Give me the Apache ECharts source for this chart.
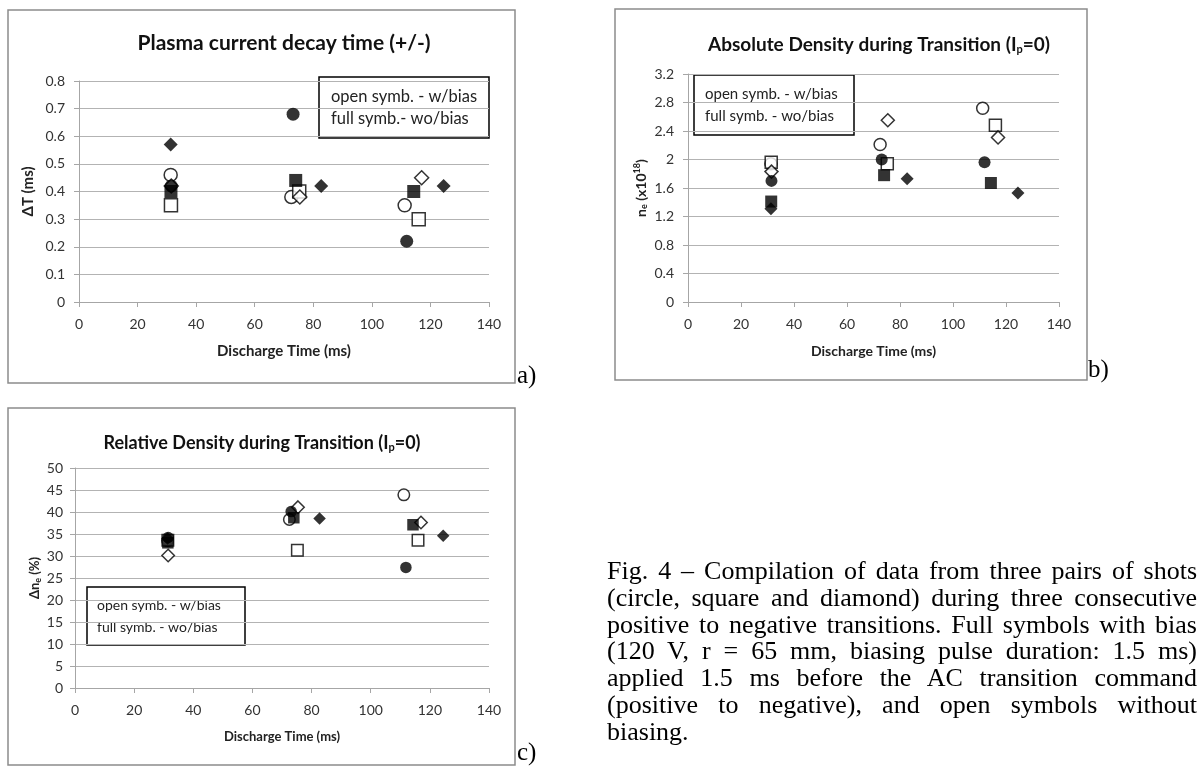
<!DOCTYPE html>
<html>
<head>
<meta charset="utf-8">
<script src="https://cdn.jsdelivr.net/npm/echarts@6/dist/echarts.min.js"></script>
<style>
  html, body { margin: 0; padding: 0; background: #fff; }
  #page { position: relative; width: 1202px; height: 769px; overflow: hidden; }
  #chart { position: absolute; left: 0; top: 0; width: 1202px; height: 769px; }
  .tag { position: absolute; font-family: "Liberation Serif", "Times New Roman", serif; font-size: 25px; line-height: 25px; color: #000; }
  #caption { position: absolute; left: 607px; top: 558px; width: 590px;
    font-family: "Liberation Serif", "Times New Roman", serif; font-size: 26px; line-height: 26.8px; color: #000; }
  #caption div { text-align: justify; text-align-last: justify; white-space: nowrap; }
  #caption div.last { text-align-last: left; }
</style>
</head>
<body>
<div id="page">
  <div id="chart"></div>
  <div class="tag" style="left:517px; top:362px;">a)</div>
  <div class="tag" style="left:1088px; top:356px;">b)</div>
  <div class="tag" style="left:517px; top:739px;">c)</div>
  <div id="caption"></div>
</div>
<script>
  // discharge time (ms) of each symbol, same shots in all three panels
  const timeOpenCircle = [31.3, 72.5, 111.2];
  const timeFullCircle = [31.5, 73.1, 111.9];
  const timeOpenSquare = [31.4, 75.2, 116.0];
  const timeFullSquare = [31.4, 74.0, 114.3];
  const timeOpenDiamond = [31.5, 75.4, 117.0];
  const timeFullDiamond = [31.3, 82.7, 124.5];

  // a) plasma current decay time, dT (ms)
  const decayOpenCircle = [0.46, 0.38, 0.35];
  const decayFullCircle = [0.42, 0.68, 0.22];
  const decayOpenSquare = [0.35, 0.40, 0.30];
  const decayFullSquare = [0.40, 0.44, 0.40];
  const decayOpenDiamond = [0.42, 0.38, 0.45];
  const decayFullDiamond = [0.57, 0.42, 0.42];

  // b) absolute density, ne (x10^18)
  const absOpenCircle = [1.94, 2.21, 2.72];
  const absFullCircle = [1.70, 2.00, 1.96];
  const absOpenSquare = [1.96, 1.94, 2.48];
  const absFullSquare = [1.41, 1.78, 1.67];
  const absOpenDiamond = [1.83, 2.55, 2.31];
  const absFullDiamond = [1.31, 1.73, 1.53];

  // c) relative density, dne (%)
  const relOpenCircle = [33.5, 38.3, 43.9];
  const relFullCircle = [34.2, 40.1, 27.4];
  const relOpenSquare = [33.6, 31.3, 33.6];
  const relFullSquare = [33.0, 38.7, 37.1];
  const relOpenDiamond = [30.1, 41.1, 37.6];
  const relFullDiamond = [34.0, 38.5, 34.6];

  const xTicks = [0, 20, 40, 60, 80, 100, 120, 140];
  const decayTicks = [0, 0.1, 0.2, 0.3, 0.4, 0.5, 0.6, 0.7, 0.8];
  const absTicks = [0, 0.4, 0.8, 1.2, 1.6, 2, 2.4, 2.8, 3.2];
  const relTicks = [0, 5, 10, 15, 20, 25, 30, 35, 40, 45, 50];

  const titles = [
    'Plasma current decay time (+/-)',
    'Absolute Density during Transition (I{sub|p}=0)',
    'Relative Density during Transition (I{sub|p}=0)'
  ];
  const yNames = ['\u0394T (ms)', 'n{sub|e} (x10{sup|18})', '\u0394n{sub|e} (%)'];
  const xName = 'Discharge Time (ms)';
  const noteLinesA = ['open symb. - w/bias', 'full symb.- wo/bias'];
  const noteLinesB = ['open symb. - w/bias', 'full symb. - wo/bias'];
  const noteLinesC = ['open symb. - w/bias', 'full symb. - wo/bias'];

  const captionLines = [
    'Fig. 4 \u2013 Compilation of data from three pairs of shots',
    '(circle, square and diamond) during three consecutive',
    'positive to negative transitions. Full symbols with bias',
    '(120 V, r = 65 mm, biasing pulse duration: 1.5 ms)',
    'applied 1.5 ms before the AC transition command',
    '(positive to negative), and open symbols without',
    'biasing.'
  ];

  const FONT = 'Lato, "Open Sans", sans-serif';

  const cap = document.getElementById('caption');
  captionLines.forEach((line, i) => {
    const d = document.createElement('div');
    d.textContent = line;
    if (i === captionLines.length - 1) d.className = 'last';
    cap.appendChild(d);
  });

  // the three panels were pasted at slightly different scales
  const grids = [
    { left: 79, top: 81, width: 410, height: 221 },
    { left: 688, top: 74, width: 371, height: 228 },
    { left: 75, top: 468, width: 414, height: 220 }
  ];
  const yTickSets = [decayTicks, absTicks, relTicks];
  const yNameGaps = [43, 39, 29];
  const yLabelMargins = [14, 14, 12];
  const nameSizes = [15, 14, 13];
  const markSizes = [13, 12, 11.5];

  const rich = {
    sub: { fontSize: 9, fontWeight: 'bold', fontFamily: FONT, padding: [7, 0, 0, 0] },
    sup: { fontSize: 9, fontWeight: 'bold', fontFamily: FONT, padding: [0, 0, 7, 0] }
  };

  const xAxes = grids.map((g, i) => ({
    type: 'value', gridIndex: i,
    min: xTicks[0], max: xTicks[xTicks.length - 1], interval: xTicks[1] - xTicks[0],
    name: xName, nameLocation: 'middle', nameGap: 42,
    nameTextStyle: { fontFamily: FONT, fontSize: nameSizes[i], fontWeight: 'bold', color: '#222' },
    axisLine: { show: true, lineStyle: { color: '#a6a6a6', width: 1 } },
    axisTick: { show: true, length: 5, lineStyle: { color: '#a6a6a6' } },
    splitLine: { show: false },
    axisLabel: { fontFamily: FONT, fontSize: 14, color: '#333', margin: 15 }
  }));

  const yAxes = grids.map((g, i) => {
    const t = yTickSets[i];
    return {
      type: 'value', gridIndex: i,
      min: t[0], max: t[t.length - 1], interval: t[1] - t[0],
      name: yNames[i], nameLocation: 'middle', nameGap: yNameGaps[i],
      nameTextStyle: { fontFamily: FONT, fontSize: nameSizes[i], fontWeight: 'bold', color: '#222', rich: rich },
      axisLine: { show: true, lineStyle: { color: '#a6a6a6', width: 1 } },
      axisTick: { show: true, length: 5, lineStyle: { color: '#a6a6a6' } },
      splitLine: { show: true, lineStyle: { color: '#b3b3b3', width: 1 } },
      axisLabel: {
        fontFamily: FONT, fontSize: 14, color: '#333', margin: yLabelMargins[i],
        formatter: v => String(+v.toFixed(1))
      }
    };
  });

  const symbolDefs = [
    { times: timeOpenCircle, symbol: 'circle', open: true },
    { times: timeOpenSquare, symbol: 'rect', open: true },
    { times: timeOpenDiamond, symbol: 'diamond', open: true },
    { times: timeFullCircle, symbol: 'circle', open: false },
    { times: timeFullSquare, symbol: 'rect', open: false },
    { times: timeFullDiamond, symbol: 'diamond', open: false }
  ];
  const panelValues = [
    [decayOpenCircle, decayOpenSquare, decayOpenDiamond, decayFullCircle, decayFullSquare, decayFullDiamond],
    [absOpenCircle, absOpenSquare, absOpenDiamond, absFullCircle, absFullSquare, absFullDiamond],
    [relOpenCircle, relOpenSquare, relOpenDiamond, relFullCircle, relFullSquare, relFullDiamond]
  ];

  const series = [];
  panelValues.forEach((vals, p) => {
    symbolDefs.forEach((def, k) => {
      const s = markSizes[p] + (def.symbol === 'diamond' ? 1 : 0);
      series.push({
        type: 'scatter', xAxisIndex: p, yAxisIndex: p,
        symbol: def.symbol, symbolSize: s,
        z: def.open ? 2 : 3,
        itemStyle: def.open
          ? { color: '#fff', borderColor: '#000', borderWidth: 1.5 }
          : { color: '#000' },
        emphasis: { disabled: true },
        data: def.times.map((t, j) => [t, vals[k][j]])
      });
    });
  });

  function noteBox(x, y, w, h, lines, tx, size) {
    const font = size + 'px ' + FONT;
    return {
      type: 'group', z: 10,
      children: [
        { type: 'rect', shape: { x: x, y: y, width: w, height: h },
          style: { fill: '#fff', stroke: '#000', lineWidth: 1.5 } },
        { type: 'text', x: tx, y: y + h / 2 - 11,
          style: { text: lines[0], font: font, fill: '#222', verticalAlign: 'middle' } },
        { type: 'text', x: tx, y: y + h / 2 + 11,
          style: { text: lines[1], font: font, fill: '#222', verticalAlign: 'middle' } }
      ]
    };
  }

  function titleText(x, y, text, size) {
    return {
      type: 'text', x: x, y: y,
      style: {
        text: text, font: 'bold ' + size + 'px ' + FONT, fill: '#111',
        align: 'center', verticalAlign: 'middle',
        rich: {
          sub: { font: 'bold ' + Math.round(size * 0.6) + 'px ' + FONT, fill: '#111', padding: [9, 0, 0, 0] }
        }
      }
    };
  }

  const frame = { fill: 'none', stroke: '#8c8c8c', lineWidth: 1.5 };

  const chart = echarts.init(document.getElementById('chart'), null, { renderer: 'canvas' });
  chart.setOption({
    animation: false,
    backgroundColor: '#fff',
    grid: grids.map(g => Object.assign({ containLabel: false }, g)),
    xAxis: xAxes,
    yAxis: yAxes,
    series: series,
    graphic: [
      { type: 'rect', shape: { x: 8, y: 10, width: 507, height: 373 }, style: frame, silent: true },
      { type: 'rect', shape: { x: 615, y: 9, width: 472, height: 371 }, style: frame, silent: true },
      { type: 'rect', shape: { x: 8, y: 408, width: 507, height: 357 }, style: frame, silent: true },
      titleText(284, 43, titles[0], 21),
      titleText(879, 45, titles[1], 19),
      titleText(262, 443, titles[2], 18),
      noteBox(319, 77, 170, 61, noteLinesA, 331, 16.5),
      noteBox(694, 75, 160, 60, noteLinesB, 705, 15),
      noteBox(87, 587, 158, 58, noteLinesC, 97, 14)
    ]
  });
</script>
</body>
</html>
